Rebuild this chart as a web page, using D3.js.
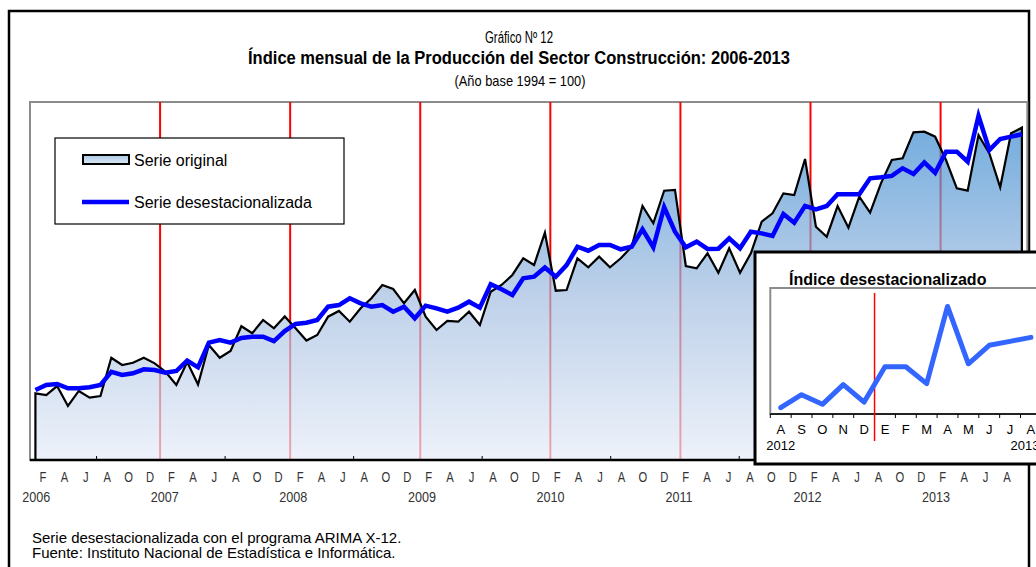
<!DOCTYPE html>
<html>
<head>
<meta charset="utf-8">
<script src="https://cdn.jsdelivr.net/npm/d3@7"></script>
<style>
  body { margin: 0; background: #fff; }
  svg { display: block; }
  .sans { font-family: "Liberation Sans", Arial, sans-serif; }
</style>
</head>
<body>
<div id="chart"></div>
<script>
// monthly index, Jan 2006 .. Aug 2013
var original = [
  190.2, 188.5, 197.3, 177.8, 192.5, 185.9, 187.6, 225.0, 217.9, 220.1, 225.0, 219.5,
  211.3, 198.3, 220.8, 198.8, 237.4, 225.0, 231.6, 255.8, 248.9, 261.9, 253.8, 265.3,
  253.8, 241.8, 247.2, 265.1, 270.7, 260.2, 273.3, 283.1, 296.1, 292.2, 278.2, 291.2,
  265.1, 252.1, 260.9, 260.2, 270.0, 257.0, 289.5, 296.1, 305.9, 322.2, 315.6, 347.2,
  290.5, 291.2, 322.2, 313.4, 323.8, 313.4, 322.2, 333.5, 373.3, 356.4, 388.3, 389.0,
  314.7, 312.4, 327.1, 308.1, 332.0, 308.1, 327.1, 358.0, 366.2, 385.7, 384.1, 419.3,
  353.1, 343.3, 373.3, 352.1, 382.4, 366.8, 395.5, 418.3, 420.0, 445.4, 446.0, 441.1,
  418.3, 390.6, 388.3, 442.7, 424.8, 391.6, 444.4, 449.9
];
var desest = [
  193.4, 198.3, 199.3, 195.1, 195.1, 196.1, 198.3, 211.3, 208.1, 209.8, 213.7, 213.0,
  210.3, 212.0, 222.1, 215.6, 239.7, 242.3, 239.7, 244.3, 245.5, 245.5, 241.3, 251.1,
  258.0, 259.2, 261.9, 274.9, 276.5, 283.1, 278.2, 274.9, 276.5, 270.0, 274.9, 263.5,
  275.9, 273.3, 270.0, 273.9, 279.8, 273.9, 296.8, 291.9, 286.3, 302.6, 304.2, 313.2,
  304.2, 315.6, 333.5, 329.6, 335.2, 335.2, 331.0, 333.5, 350.5, 333.0, 372.1, 348.2,
  333.0, 338.4, 331.3, 331.6, 341.7, 332.0, 348.2, 346.6, 344.0, 365.5, 357.0, 373.5,
  370.1, 373.3, 384.8, 384.8, 384.8, 400.4, 401.4, 402.7, 410.2, 404.6, 416.0, 405.9,
  426.4, 426.4, 416.6, 461.3, 428.1, 438.8, 441.1, 443.4
];
var monthLetters = ["E", "F", "M", "A", "M", "J", "J", "A", "S", "O", "N", "D"];
var years = ["2006", "2007", "2008", "2009", "2010", "2011", "2012", "2013"];
var insetLetters = ["A", "S", "O", "N", "D", "E", "F", "M", "A", "M", "J", "J", "A"];
var insetYears = ["2012", "2013"];

var width = 1036, height = 567;

var svg = d3.select("#chart").append("svg")
  .attr("width", width)
  .attr("height", height);

// squeeze text horizontally to mimic the narrow face of the original
function narrow(sel, factor) {
  sel.each(function() {
    var len = this.getComputedTextLength();
    d3.select(this)
      .attr("textLength", len * factor)
      .attr("lengthAdjust", "spacingAndGlyphs");
  });
}

var defs = svg.append("defs");
// area is drawn semi transparent so the red year lines show through
var grad = defs.append("linearGradient")
  .attr("id", "areaGrad")
  .attr("x1", 0).attr("y1", 0).attr("x2", 0).attr("y2", 1);
grad.append("stop").attr("offset", "0%").attr("stop-color", "#3a8ad0");
grad.append("stop").attr("offset", "50%").attr("stop-color", "#a2bde0");
grad.append("stop").attr("offset", "100%").attr("stop-color", "#e6ecf8");

var legGrad = defs.append("linearGradient")
  .attr("id", "legGrad")
  .attr("x1", 0).attr("y1", 0).attr("x2", 0).attr("y2", 1);
legGrad.append("stop").attr("offset", "0%").attr("stop-color", "#a9c8e6");
legGrad.append("stop").attr("offset", "100%").attr("stop-color", "#dde8f5");

// outer frame
svg.append("rect")
  .attr("x", 9).attr("y", 11)
  .attr("width", 1020).attr("height", 600)
  .attr("fill", "#fff")
  .attr("stroke", "#000")
  .attr("stroke-width", 2.5);

// titles
svg.append("text").attr("class", "sans")
  .attr("x", 519).attr("y", 43)
  .attr("text-anchor", "middle")
  .attr("font-size", 16)
  .attr("textLength", 68)
  .attr("lengthAdjust", "spacingAndGlyphs")
  .text("Gráfico Nº 12");
svg.append("text").attr("class", "sans")
  .attr("x", 519).attr("y", 64)
  .attr("text-anchor", "middle")
  .attr("font-size", 18)
  .attr("font-weight", "bold")
  .attr("textLength", 542)
  .attr("lengthAdjust", "spacingAndGlyphs")
  .text("Índice mensual de la Producción del Sector Construcción: 2006-2013");
svg.append("text").attr("class", "sans")
  .attr("x", 520).attr("y", 86)
  .attr("text-anchor", "middle")
  .attr("font-size", 15)
  .attr("textLength", 131)
  .attr("lengthAdjust", "spacingAndGlyphs")
  .text("(Año base 1994 = 100)");

// main plot
var plot = { left: 30, right: 1027.3, top: 102, bottom: 460 };

var idx = d3.range(original.length);
var x = d3.scaleBand()
  .domain(idx)
  .range([plot.left, plot.right])
  .padding(0);
var cx = function(i) { return x(i) + x.bandwidth() / 2; };

var y = d3.scaleLinear()
  .domain([125, 475])
  .range([plot.bottom, plot.top]);

svg.append("rect")
  .attr("x", plot.left).attr("y", plot.top)
  .attr("width", plot.right - plot.left)
  .attr("height", plot.bottom - plot.top)
  .attr("fill", "#fff")
  .attr("stroke", "#8c8c8c")
  .attr("stroke-width", 2);

// year separators
svg.selectAll(".yearline")
  .data(idx.filter(function(i) { return i > 0 && i % 12 === 0; }))
  .enter().append("line")
  .attr("class", "yearline")
  .attr("x1", function(i) { return x(i); })
  .attr("x2", function(i) { return x(i); })
  .attr("y1", plot.top)
  .attr("y2", plot.bottom)
  .attr("stroke", "#ff0000")
  .attr("stroke-width", 2);

var area = d3.area()
  .x(function(d, i) { return cx(i); })
  .y0(plot.bottom)
  .y1(function(d) { return y(d); });

svg.append("path")
  .datum(original)
  .attr("d", area)
  .attr("fill", "url(#areaGrad)")
  .attr("fill-opacity", 0.7)
  .attr("stroke", "#000")
  .attr("stroke-width", 2.2)
  .attr("stroke-linejoin", "miter");

var line = d3.line()
  .x(function(d, i) { return cx(i); })
  .y(function(d) { return y(d); });

svg.append("path")
  .datum(desest)
  .attr("d", line)
  .attr("fill", "none")
  .attr("stroke", "#0000ff")
  .attr("stroke-width", 4.5)
  .attr("stroke-linejoin", "miter");

// axis line
svg.append("line")
  .attr("x1", plot.left).attr("x2", plot.right)
  .attr("y1", plot.bottom).attr("y2", plot.bottom)
  .attr("stroke", "#000")
  .attr("stroke-width", 2.5);

// label axis (Excel spaces the text slightly tighter than the bands)
var xl = d3.scaleLinear().domain([0, 91]).range([32.3, 1007]);

svg.selectAll(".axtick")
  .data(idx.filter(function(i) { return i % 12 === 6; }))
  .enter().append("line")
  .attr("class", "axtick")
  .attr("x1", function(i) { return xl(i); })
  .attr("x2", function(i) { return xl(i); })
  .attr("y1", plot.bottom - 4)
  .attr("y2", plot.bottom)
  .attr("stroke", "#000")
  .attr("stroke-width", 1);

svg.selectAll(".mlabel")
  .data(idx.filter(function(i) { return i % 2 === 1; }))
  .enter().append("text")
  .attr("class", "mlabel sans")
  .attr("x", function(i) { return xl(i); })
  .attr("y", 482)
  .attr("text-anchor", "middle")
  .attr("font-size", 14)
  .attr("fill", "#333")
  .text(function(i) { return monthLetters[i % 12]; })
  .call(narrow, 0.8);

svg.selectAll(".ylabel")
  .data(years)
  .enter().append("text")
  .attr("class", "ylabel sans")
  .attr("x", function(d, k) { return xl(k * 12) + 4; })
  .attr("y", 502)
  .attr("text-anchor", "middle")
  .attr("font-size", 14)
  .attr("fill", "#333")
  .text(function(d) { return d; })
  .call(narrow, 0.9);

// legend
var leg = svg.append("g");
leg.append("rect")
  .attr("x", 55).attr("y", 138)
  .attr("width", 289).attr("height", 86)
  .attr("fill", "#fff")
  .attr("stroke", "#000")
  .attr("stroke-width", 1.2);
leg.append("rect")
  .attr("x", 83).attr("y", 155)
  .attr("width", 46).attr("height", 9)
  .attr("fill", "url(#legGrad)")
  .attr("stroke", "#000")
  .attr("stroke-width", 2);
leg.append("text").attr("class", "sans")
  .attr("x", 134).attr("y", 165.5)
  .attr("font-size", 16)
  .text("Serie original");
leg.append("line")
  .attr("x1", 82).attr("x2", 129)
  .attr("y1", 202).attr("y2", 202)
  .attr("stroke", "#0000ff")
  .attr("stroke-width", 4.5);
leg.append("text").attr("class", "sans")
  .attr("x", 134).attr("y", 207.5)
  .attr("font-size", 16)
  .text("Serie desestacionalizada");

// inset: last 13 months of the seasonally adjusted series
var insetVals = desest.slice(desest.length - 13);
var inset = svg.append("g");
inset.append("rect")
  .attr("x", 755).attr("y", 252)
  .attr("width", 320).attr("height", 212)
  .attr("fill", "#fff")
  .attr("stroke", "#000")
  .attr("stroke-width", 3);
inset.append("text").attr("class", "sans")
  .attr("x", 789).attr("y", 285)
  .attr("font-size", 16)
  .attr("font-weight", "bold")
  .text("Índice desestacionalizado");

var ip = { left: 770.3, top: 288, bottom: 414 };
var ix = d3.scaleBand()
  .domain(d3.range(insetVals.length))
  .range([ip.left, ip.left + 20.85 * insetVals.length])
  .padding(0);
var iy = d3.scaleLinear().domain([399, 472]).range([ip.bottom, ip.top]);

inset.append("rect")
  .attr("x", ip.left).attr("y", ip.top)
  .attr("width", 300).attr("height", ip.bottom - ip.top)
  .attr("fill", "#fff")
  .attr("stroke", "#8c8c8c")
  .attr("stroke-width", 2);

inset.append("line")
  .attr("x1", ip.left).attr("x2", ip.left + 300)
  .attr("y1", ip.bottom).attr("y2", ip.bottom)
  .attr("stroke", "#000")
  .attr("stroke-width", 1.5);

inset.selectAll(".itick")
  .data(d3.range(insetVals.length + 1))
  .enter().append("line")
  .attr("class", "itick")
  .attr("x1", function(k) { return ip.left + k * ix.step(); })
  .attr("x2", function(k) { return ip.left + k * ix.step(); })
  .attr("y1", ip.bottom)
  .attr("y2", ip.bottom + 4)
  .attr("stroke", "#000")
  .attr("stroke-width", 1);

inset.append("line")
  .attr("x1", ix(5)).attr("x2", ix(5))
  .attr("y1", 293).attr("y2", 441)
  .attr("stroke", "#ff0000")
  .attr("stroke-width", 1.5);

inset.append("path")
  .datum(insetVals)
  .attr("d", d3.line()
    .x(function(d, k) { return ix(k) + ix.bandwidth() / 2; })
    .y(function(d) { return iy(d); }))
  .attr("fill", "none")
  .attr("stroke", "#3366ff")
  .attr("stroke-width", 5)
  .attr("stroke-linecap", "round")
  .attr("stroke-linejoin", "round");

inset.selectAll(".ilabel")
  .data(insetLetters)
  .enter().append("text")
  .attr("class", "ilabel sans")
  .attr("x", function(d, k) { return ix(k) + ix.bandwidth() / 2; })
  .attr("y", 434)
  .attr("text-anchor", "middle")
  .attr("font-size", 13)
  .text(function(d) { return d; });

inset.selectAll(".iyear")
  .data(insetYears)
  .enter().append("text")
  .attr("class", "iyear sans")
  .attr("x", function(d, k) { return k === 0 ? ix(0) + ix.bandwidth() / 2 : ix(12) + ix.bandwidth() / 2 - 6; })
  .attr("y", 450)
  .attr("text-anchor", "middle")
  .attr("font-size", 13)
  .text(function(d) { return d; });

// footer notes
svg.append("text").attr("class", "sans")
  .attr("x", 32).attr("y", 543)
  .attr("font-size", 15)
  .text("Serie desestacionalizada con el programa ARIMA X-12.");
svg.append("text").attr("class", "sans")
  .attr("x", 32).attr("y", 558)
  .attr("font-size", 15)
  .text("Fuente: Instituto Nacional de Estadística e Informática.");
</script>
</body>
</html>
